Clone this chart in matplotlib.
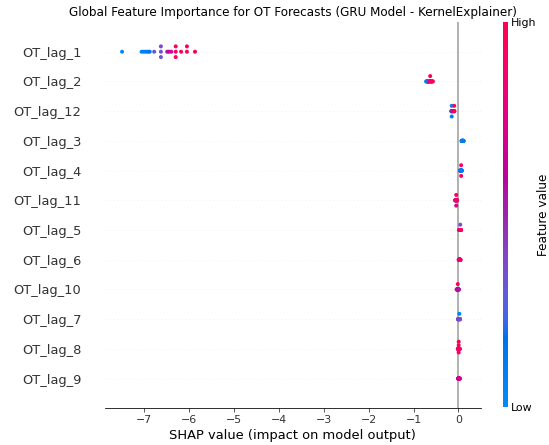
import numpy as np
import matplotlib
matplotlib.use("Agg")
import matplotlib.pyplot as plt
from matplotlib.colors import LinearSegmentedColormap, Normalize
from matplotlib.cm import ScalarMappable

# features, most important first
features = ["OT_lag_1", "OT_lag_2", "OT_lag_12", "OT_lag_3", "OT_lag_4", "OT_lag_11",
            "OT_lag_5", "OT_lag_6", "OT_lag_10", "OT_lag_7", "OT_lag_8", "OT_lag_9"]

# shap values and scaled feature values (0 = low, 1 = high)
shap_lag_1 = [-7.495, -7.06, -7.01, -6.96, -6.92, -6.88, -6.78, -6.63, -6.63, -6.63,
              -6.49, -6.45, -6.40, -6.30, -6.30, -6.30, -6.18, -6.05, -6.05, -5.87]
feat_lag_1 = [0.0, 0.05, 0.1, 0.08, 0.12, 0.15, 0.3, 0.35, 0.38, 0.33,
              0.5, 0.65, 0.7, 0.9, 0.95, 0.92, 1.0, 0.95, 1.0, 1.0]

shap_lag_2 = [-0.72, -0.71, -0.70, -0.695, -0.69, -0.685, -0.68, -0.675, -0.67, -0.66,
              -0.65, -0.63, -0.63, -0.625, -0.62, -0.61, -0.60, -0.59, -0.58, -0.57]
feat_lag_2 = [0.05, 0.1, 0.08, 0.15, 0.12, 0.2, 0.1, 0.25, 0.15, 0.3,
              0.6, 0.85, 0.95, 0.8, 0.9, 0.85, 0.95, 0.9, 1.0, 0.95]

shap_lag_12 = [-0.16, -0.157, -0.154, -0.152, -0.15, -0.15, -0.15, -0.145, -0.14, -0.135,
               -0.13, -0.125, -0.12, -0.115, -0.11, -0.105, -0.1, -0.095, -0.095, -0.09]
feat_lag_12 = [0.05, 0.1, 0.08, 0.12, 0.15, 0.05, 0.1, 0.3, 0.4, 0.5,
               0.6, 0.7, 0.75, 0.8, 0.85, 0.9, 0.85, 0.9, 0.95, 1.0]

shap_lag_3 = [0.07, 0.073, 0.075, 0.077, 0.08, 0.082, 0.084, 0.086, 0.088, 0.09,
              0.092, 0.094, 0.096, 0.098, 0.10, 0.103, 0.106, 0.109, 0.112, 0.115]
feat_lag_3 = [0.3, 0.2, 0.25, 0.1, 0.15, 0.2, 0.1, 0.05, 0.15, 0.1,
              0.2, 0.1, 0.05, 0.1, 0.15, 0.1, 0.05, 0.1, 0.05, 0.1]

shap_lag_4 = [0.035, 0.038, 0.041, 0.044, 0.047, 0.05, 0.053, 0.056, 0.058, 0.06,
              0.06, 0.06, 0.062, 0.064, 0.066, 0.068, 0.07, 0.072, 0.074, 0.076]
feat_lag_4 = [0.9, 0.85, 0.1, 0.15, 0.1, 0.05, 0.1, 0.15, 0.05, 0.1,
              0.9, 0.95, 0.1, 0.05, 0.15, 0.1, 0.2, 0.1, 0.05, 0.1]

shap_lag_11 = [-0.075, -0.072, -0.069, -0.066, -0.063, -0.06, -0.057, -0.055, -0.053, -0.05,
               -0.05, -0.05, -0.047, -0.045, -0.043, -0.04, -0.037, -0.035, -0.032, -0.03]
feat_lag_11 = [0.35, 0.4, 0.3, 0.6, 0.7, 0.8, 0.9, 0.85, 0.95, 0.9,
               0.95, 0.75, 0.9, 1.0, 0.85, 0.9, 0.95, 1.0, 0.9, 0.95]

shap_lag_5 = [0.015, 0.018, 0.021, 0.024, 0.027, 0.03, 0.032, 0.034, 0.036, 0.038,
              0.04, 0.04, 0.042, 0.044, 0.046, 0.048, 0.05, 0.053, 0.056, 0.06]
feat_lag_5 = [0.8, 0.9, 0.85, 0.95, 0.9, 0.7, 0.9, 1.0, 0.85, 0.9,
              0.95, 0.35, 0.9, 0.85, 1.0, 0.9, 0.95, 0.85, 0.9, 0.95]

shap_lag_6 = [0.005, 0.008, 0.011, 0.013, 0.015, 0.017, 0.019, 0.021, 0.023, 0.025,
              0.027, 0.029, 0.031, 0.033, 0.035, 0.037, 0.039, 0.041, 0.043, 0.045]
feat_lag_6 = [0.7, 0.8, 0.75, 0.85, 0.8, 0.9, 0.75, 0.85, 0.8, 0.7,
              0.85, 0.9, 0.8, 0.75, 0.85, 0.8, 0.9, 0.85, 0.8, 0.85]

shap_lag_10 = [-0.04, -0.037, -0.034, -0.031, -0.028, -0.025, -0.022, -0.02, -0.018, -0.015,
               -0.015, -0.012, -0.01, -0.008, -0.006, -0.004, -0.002, 0.002, 0.006, 0.01]
feat_lag_10 = [0.9, 0.85, 0.95, 0.8, 0.9, 0.85, 0.75, 0.7, 0.65, 0.6,
               0.95, 0.6, 0.55, 0.6, 0.65, 0.6, 0.55, 0.65, 0.6, 0.55]

shap_lag_7 = [-0.01, -0.008, -0.006, -0.004, -0.002, 0.0, 0.003, 0.006, 0.009, 0.012,
              0.015, 0.02, 0.02, 0.023, 0.025, 0.027, 0.029, 0.031, 0.033, 0.035]
feat_lag_7 = [0.4, 0.35, 0.45, 0.3, 0.4, 0.35, 0.45, 0.4, 0.3, 0.35,
              0.4, 0.35, 0.05, 0.45, 0.4, 0.3, 0.35, 0.4, 0.45, 0.35]

shap_lag_8 = [-0.015, -0.012, -0.009, -0.006, -0.004, -0.002, 0.0, 0.002, 0.005, 0.005,
              0.005, 0.005, 0.008, 0.011, 0.014, 0.017, 0.02, 0.023, 0.026, 0.03]
feat_lag_8 = [0.9, 0.95, 0.85, 1.0, 0.9, 0.8, 0.95, 0.9, 0.7, 0.95,
              0.9, 1.0, 0.85, 0.9, 0.95, 0.8, 0.9, 1.0, 0.85, 0.9]

shap_lag_9 = [-0.01, -0.008, -0.006, -0.004, -0.002, 0.0, 0.002, 0.004, 0.006, 0.008,
              0.01, 0.012, 0.014, 0.016, 0.018, 0.02, 0.022, 0.025, 0.028, 0.03]
feat_lag_9 = [0.7, 0.65, 0.75, 0.7, 0.6, 0.7, 0.75, 0.65, 0.7, 0.72,
              0.68, 0.7, 0.75, 0.65, 0.7, 0.72, 0.68, 0.7, 0.75, 0.7]

shap_vals = {"OT_lag_1": shap_lag_1, "OT_lag_2": shap_lag_2, "OT_lag_12": shap_lag_12,
             "OT_lag_3": shap_lag_3, "OT_lag_4": shap_lag_4, "OT_lag_11": shap_lag_11,
             "OT_lag_5": shap_lag_5, "OT_lag_6": shap_lag_6, "OT_lag_10": shap_lag_10,
             "OT_lag_7": shap_lag_7, "OT_lag_8": shap_lag_8, "OT_lag_9": shap_lag_9}
feat_vals = {"OT_lag_1": feat_lag_1, "OT_lag_2": feat_lag_2, "OT_lag_12": feat_lag_12,
             "OT_lag_3": feat_lag_3, "OT_lag_4": feat_lag_4, "OT_lag_11": feat_lag_11,
             "OT_lag_5": feat_lag_5, "OT_lag_6": feat_lag_6, "OT_lag_10": feat_lag_10,
             "OT_lag_7": feat_lag_7, "OT_lag_8": feat_lag_8, "OT_lag_9": feat_lag_9}


# shap-style red/blue colormap, interpolated in LCh space
def lch_to_rgb(l, c, h):
	a = c * np.cos(h)
	b = c * np.sin(h)
	fy = (l + 16.0) / 116.0
	fx = a / 500.0 + fy
	fz = max(fy - b / 200.0, 0.0)
	f = np.array([fx, fy, fz])
	xyz = np.where(f > 0.2068966, f ** 3, (f - 16.0 / 116.0) / 7.787)
	xyz = xyz * np.array([0.95047, 1.0, 1.08883])
	m = np.array([[3.24048134, -1.53715152, -0.49853633],
	              [-0.96925495, 1.87599, 0.04155593],
	              [0.05564664, -0.20404134, 1.05731107]])
	rgb = m @ xyz
	pos = np.clip(rgb, 0, None)
	rgb = np.where(rgb > 0.0031308, 1.055 * pos ** (1 / 2.4) - 0.055, 12.92 * rgb)
	return np.clip(rgb, 0, 1)

blue_lch = [54.0, 70.0, 4.6588]
red_lch = [54.0, 90.0, 0.35470565 + 2 * np.pi]
l_mid = 40.0
nsteps = 100
l_vals = list(np.linspace(blue_lch[0], l_mid, nsteps // 2)) + list(np.linspace(l_mid, red_lch[0], nsteps // 2))
c_vals = np.linspace(blue_lch[1], red_lch[1], nsteps)
h_vals = np.linspace(blue_lch[2], red_lch[2], nsteps)
cmap = LinearSegmentedColormap.from_list(
	"red_blue", [lch_to_rgb(l, c, h) for l, c, h in zip(l_vals, c_vals, h_vals)])


# beeswarm offsets (same binning idea as shap)
def swarm(vals, row_height=0.4, nbins=100):
	vals = np.asarray(vals, float)
	quant = np.round(nbins * (vals - vals.min()) / (vals.max() - vals.min() + 1e-8))
	inds = np.argsort(quant, kind="stable")
	ys = np.zeros(len(vals))
	layer = 0
	last_bin = -1
	for ind in inds:
		if quant[ind] != last_bin:
			layer = 0
		ys[ind] = np.ceil(layer / 2) * ((layer % 2) * 2 - 1)
		layer += 1
		last_bin = quant[ind]
	ys *= 0.9 * (row_height / np.max(ys + 1))
	return ys


W, H = 549, 445
fig = plt.figure(figsize=(W / 72, H / 72), dpi=72)
ax = fig.add_axes([105 / W, 1 - 408.3 / H, (480.7 - 105) / W, (408.3 - 22) / H])
axis_color = "#333333"

ax.axvline(x=0, color="#999999", zorder=-1)
order = features[::-1]
for pos, name in enumerate(order):
	ax.axhline(y=pos, color="#cccccc", lw=0.5, dashes=(1, 5), zorder=-1)
	s = np.asarray(shap_vals[name], float)
	ys = swarm(s)
	ax.scatter(s, pos + ys, c=feat_vals[name], cmap=cmap, vmin=0, vmax=1,
	           s=16, alpha=1, linewidth=0, zorder=3)

ax.xaxis.set_ticks_position("bottom")
ax.yaxis.set_ticks_position("none")
for sp in ["right", "top", "left"]:
	ax.spines[sp].set_visible(False)
ax.tick_params(color=axis_color, labelcolor=axis_color)
ax.set_yticks(range(len(order)))
ax.set_yticklabels(order, fontsize=13)
ax.tick_params("y", length=20, width=0.5, which="major")
ax.tick_params("x", labelsize=11)
ax.set_ylim(-1, len(order))
ax.set_xlabel("SHAP value (impact on model output)", fontsize=13)
ax.set_title("Global Feature Importance for OT Forecasts (GRU Model - KernelExplainer)")

cax = fig.add_axes([503.3 / W, 1 - 407 / H, 4.5 / W, 385 / H])
m = ScalarMappable(cmap=cmap, norm=Normalize(0, 1))
cb = fig.colorbar(m, cax=cax, ticks=[0, 1])
cb.set_ticklabels(["Low", "High"])
cb.set_label("Feature value", size=12, labelpad=0)
cb.ax.tick_params(labelsize=11, length=0)
cb.outline.set_visible(False)

fig.savefig("out.png", dpi=72)
